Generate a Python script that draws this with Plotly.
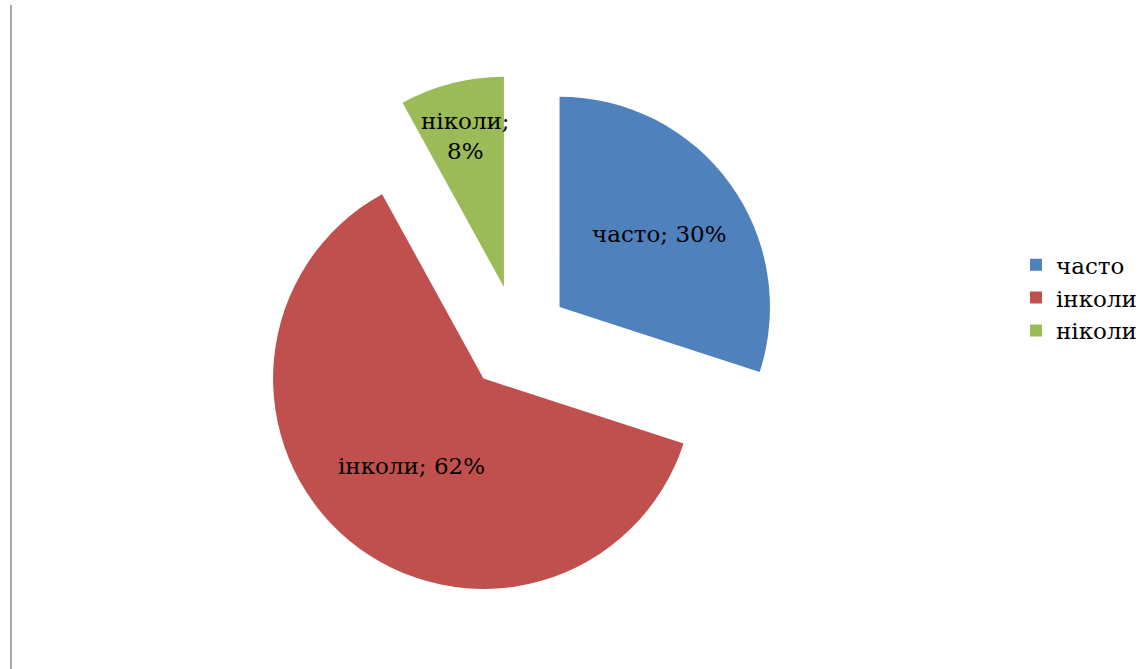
import math
import plotly.graph_objects as go

labels = ["часто", "інколи", "ніколи"]
values = [30, 62, 8]
texts = ["часто; 30%", "інколи; 62%", "ніколи;<br>8%"]
colors = ["#4F81BD", "#C0504D", "#9BBB59"]

W, H = 1148, 669
PULL = 0.25
dom_x = [254 / W, 780 / W]
dom_y = [68 / H, 594 / H]
label_frac = [0.59, 0.54, 0.74]  # radial position of each label (fraction of radius)

fig = go.Figure(go.Pie(
    labels=labels, values=values,
    textinfo="none",
    sort=False, direction="clockwise", rotation=0,
    pull=[PULL] * len(values),
    marker=dict(colors=colors, line=dict(width=0)),
    domain=dict(x=dom_x, y=dom_y),
    hoverinfo="label+percent",
))

# data labels placed along each slice's bisector (derived from the values)
cx = (dom_x[0] + dom_x[1]) / 2 * W
cy = (dom_y[0] + dom_y[1]) / 2 * H
r = min((dom_x[1] - dom_x[0]) * W, (dom_y[1] - dom_y[0]) * H) / 2 / (1 + PULL)
total = sum(values)
cum = 0
for v, t, f in zip(values, texts, label_frac):
    mid = (cum + v / 2) / total * 2 * math.pi
    cum += v
    dist = r * (PULL + f)
    px = cx + dist * math.sin(mid)
    py = cy + dist * math.cos(mid)
    fig.add_annotation(x=px / W, y=py / H, xref="paper", yref="paper",
                       text=t, showarrow=False, xanchor="center", yanchor="middle",
                       font=dict(family="DejaVu Serif", size=23, color="black"))

fig.add_shape(type="line", xref="paper", yref="paper",
              x0=11 / W, x1=11 / W, y0=0, y1=1 - 5 / H,
              line=dict(color="#A6A6A6", width=2))
fig.update_layout(
    width=W, height=H,
    margin=dict(l=0, r=0, t=0, b=0),
    paper_bgcolor="white", plot_bgcolor="white",
    font=dict(family="DejaVu Serif", color="black"),
    legend=dict(x=0.885, y=0.555, xanchor="left", yanchor="middle",
                font=dict(family="DejaVu Serif", size=23),
                itemwidth=30, tracegroupgap=0),
    showlegend=True,
)
fig.write_html("out.html", config={"displayModeBar": False},
               post_script="document.body.style.margin='0';")
